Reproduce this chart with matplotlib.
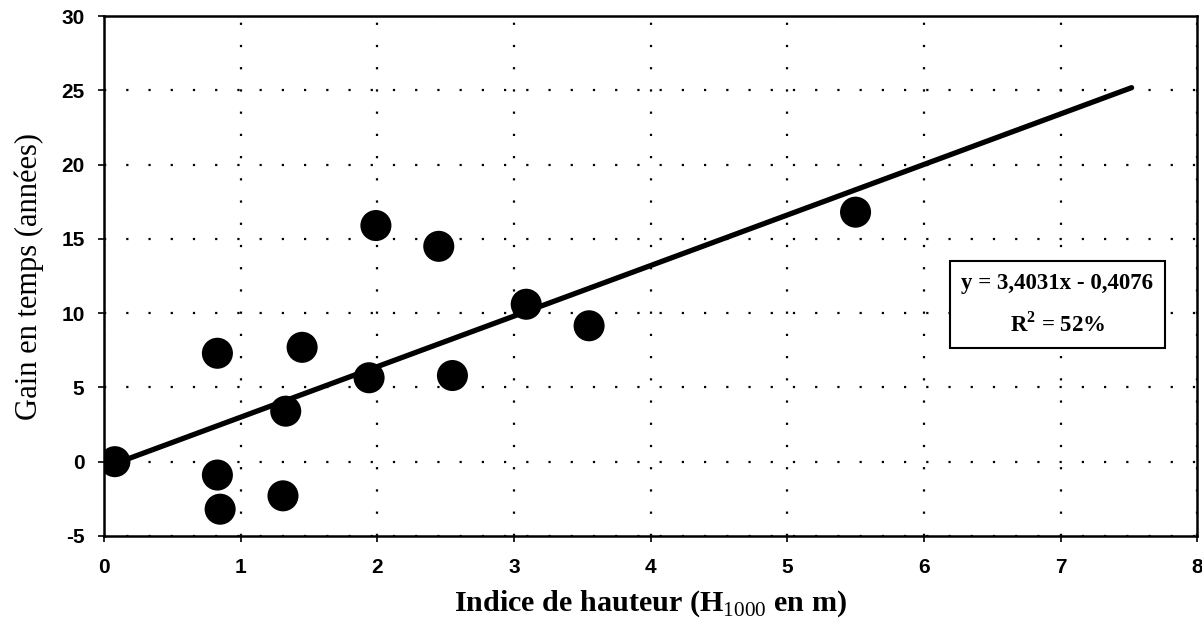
import numpy as np
import matplotlib
matplotlib.use("Agg")
import matplotlib.pyplot as plt

plt.rcParams["mathtext.fontset"] = "custom"
plt.rcParams["mathtext.rm"] = "Liberation Serif"
plt.rcParams["mathtext.bf"] = "Liberation Serif:bold"
plt.rcParams["axes.unicode_minus"] = False

# data
hauteur = [0.08, 0.83, 0.85, 0.83, 1.31, 1.33, 1.45, 1.94, 1.99, 2.45, 2.55, 3.09, 3.55, 5.50]
gain = [0.0, -0.9, -3.2, 7.3, -2.3, 3.4, 7.7, 5.65, 15.9, 14.5, 5.8, 10.6, 9.15, 16.8]

# trend line reported on the chart
slope = 3.4031
intercept = -0.4076
trend_x = [min(hauteur), 7.52]

x_ticks = [0, 1, 2, 3, 4, 5, 6, 7, 8]
y_ticks = [-5, 0, 5, 10, 15, 20, 25, 30]

fig = plt.figure(figsize=(12.02, 6.21), dpi=100)
ax = fig.add_axes([0.0865, 0.137, 0.9095, 0.837])

tx = np.array(trend_x)
ax.plot(tx, slope * tx + intercept, color="black", lw=3.8, solid_capstyle="round", zorder=3)
ax.scatter(hauteur, gain, s=500, color="black", edgecolors="none", zorder=4)

ax.set_xlim(0, 8)
ax.set_ylim(-5, 30)
ax.set_xticks(x_ticks)
ax.set_yticks(y_ticks)
ax.grid(True, color="black", linestyle=(0, (1, 9)), lw=1.6)
ax.tick_params(direction="out", length=4, width=1.2, labelsize=15)
ax.tick_params(axis="x", pad=12)
ax.tick_params(axis="y", pad=10)
for lab in ax.get_xticklabels() + ax.get_yticklabels():
    lab.set_fontfamily("Liberation Sans")
    lab.set_fontweight("bold")
for sp in ax.spines.values():
    sp.set_linewidth(1.8)

ax.set_xlabel(r"Indice de hauteur (H$_{\mathrm{1000}}$ en m)", family="Liberation Serif",
              fontsize=21.7, fontweight="bold", labelpad=8)
ax.set_ylabel("Gain en temps (années)", family="Liberation Serif", fontsize=22, labelpad=12)

ax.text(0.872, 0.445, "y = 3,4031x - 0,4076\nR$^\\mathbf{2}$ = 52%", transform=ax.transAxes,
        ha="center", va="center", family="Liberation Serif", fontsize=16.5, fontweight="bold",
        linespacing=1.95,
        bbox=dict(boxstyle="square,pad=0.5", facecolor="white", edgecolor="black", lw=1.5),
        zorder=5)

fig.savefig("out.png", dpi=100)
